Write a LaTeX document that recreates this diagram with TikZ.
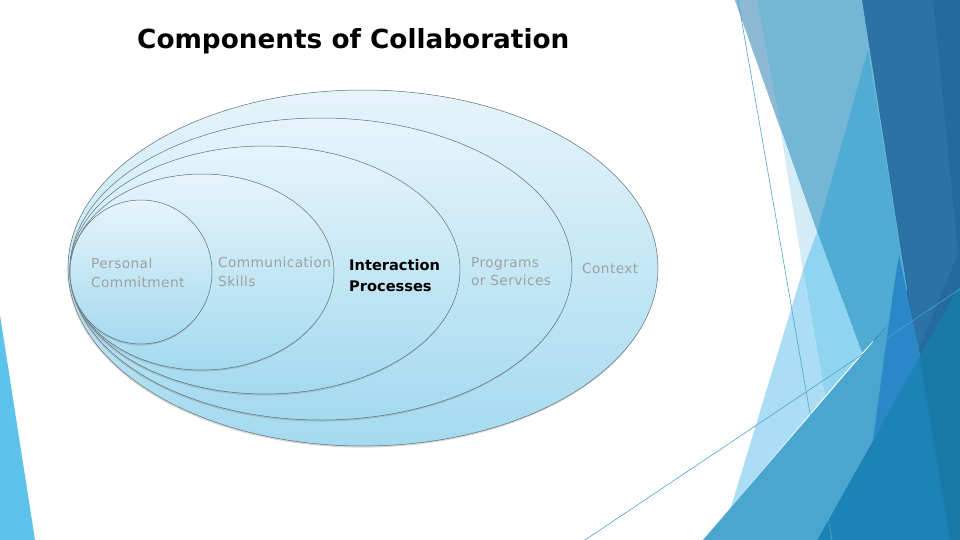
\documentclass[tikz,border=0pt]{standalone}
\usepackage{fontspec}
\setmainfont{DejaVu Sans}
\newfontfamily\lblfont[LetterSpace=3]{DejaVu Sans}
\usetikzlibrary{shadows}
\definecolor{cDark}{HTML}{246A9E}
\definecolor{cDarkB}{HTML}{2B72A5}
\definecolor{cSteel}{HTML}{74B6D5}
\definecolor{cStrip}{HTML}{8CBAD4}
\definecolor{cVLight}{HTML}{D3ECF8}
\definecolor{cMed}{HTML}{50ACD3}
\definecolor{cLightB}{HTML}{8FD4F0}
\definecolor{cLightA}{HTML}{ABDEF5}
\definecolor{cBright}{HTML}{2C87C8}
\definecolor{cBand}{HTML}{4AA6CF}
\definecolor{cTeal}{HTML}{1C83B6}
\definecolor{cTealD}{HTML}{1979A8}
\definecolor{cLine}{HTML}{4EA5C8}
\definecolor{cLeft}{HTML}{5EC3EA}
\definecolor{eltop}{HTML}{E6F4FB}
\definecolor{elbot}{HTML}{A4DAEF}
\definecolor{elline}{HTML}{5F6F77}
\definecolor{lblgray}{HTML}{9DA1A4}
\begin{document}
\begin{tikzpicture}[x=1pt,y=-1pt,
  deco/.style={draw=none},
  thinline/.style={draw=cLine,line width=0.6pt},
  ell/.style={draw=elline,line width=0.5pt,top color=eltop,bottom color=elbot,
    drop shadow={opacity=0.3,shadow xshift=-0.6pt,shadow yshift=-1.6pt}},
  lbl/.style={font=\lblfont\fontsize{13.7}{16}\selectfont,text=lblgray,anchor=base west,inner sep=0pt},
  lblbold/.style={font=\bfseries\fontsize{14.6}{17}\selectfont,text=black,anchor=base west,inner sep=0pt}]
\useasboundingbox (0,0) rectangle (960,540);
\fill[white] (0,0) rectangle (960,540);

% right-hand facets
\fill[deco,cDark] (862,0) -- (960,0) -- (960,540) -- (880,540) -- cycle;
\fill[deco,cDarkB] (862,0) -- (933,0) -- (958,253) -- (918,352) -- cycle;
\fill[deco,cSteel] (735,0) -- (862,0) -- (907,290) -- (817,232) -- cycle;
\fill[deco,cStrip] (735,0) -- (757,0) -- (782,133) -- cycle;
\fill[deco,cVLight] (780,127) -- (817,232) -- (803,270) -- cycle;
\fill[deco,cMed] (868,50) -- (907,290) -- (892,320) -- (862,353) -- (817,232) -- cycle;
\fill[deco,cLightB] (803,270) -- (817,232) -- (862,353) -- (825,396) -- cycle;
\fill[deco,cLightA] (803,270) -- (825,396) -- (731,507) -- cycle;
\fill[deco,cBand] (703,540) -- (892,320) -- (908,300) -- (920,356) -- (873,440) -- (817,540) -- cycle;
\fill[deco,cBright] (899,255) -- (920,357) -- (873,440) -- (892,300) -- cycle;
\fill[deco,cTeal] (960,285) -- (960,540) -- (817,540) -- cycle;
\fill[deco,cTealD] (919.5,357) -- (960,285) -- (960,540) -- (950,540) -- cycle;
\coordinate (la) at (738,0);
\coordinate (lb) at (832,540);
\coordinate (lc) at (585,540);
\coordinate (ld) at (960,289);
\draw[thinline] (la) -- (lb);
\draw[thinline] (lc) -- (ld);

% left facet
\fill[deco,cLeft] (0,315) -- (0,540) -- (35,540) -- cycle;

% title
\node[anchor=base west,inner sep=0pt,font=\bfseries\fontsize{26.3}{31}\selectfont] (title) at (137,48.5) {Components of Collaboration};

% nested ellipses
\shade[ell] (363,268) ellipse [x radius=295, y radius=178];
\shade[ell] (321,269) ellipse [x radius=251, y radius=151];
\shade[ell] (265,270) ellipse [x radius=195, y radius=124];
\shade[ell] (202,272) ellipse [x radius=132, y radius=98];
\shade[ell] (141,272) ellipse [x radius=71, y radius=72];

% labels
\node[lbl] (pc1) at (91,268) {Personal};
\node[lbl] (pc2) at (91,287) {Commitment};
\node[lbl] (cs1) at (218,267) {Communication};
\node[lbl] (cs2) at (218,286) {Skills};
\node[lblbold] (ip1) at (349,270) {Interaction};
\node[lblbold] (ip2) at (349,291) {Processes};
\node[lbl] (ps1) at (471,267) {Programs};
\node[lbl] (ps2) at (471,285) {or Services};
\node[lbl] (ctx) at (582,273) {Context};
\end{tikzpicture}
\end{document}
